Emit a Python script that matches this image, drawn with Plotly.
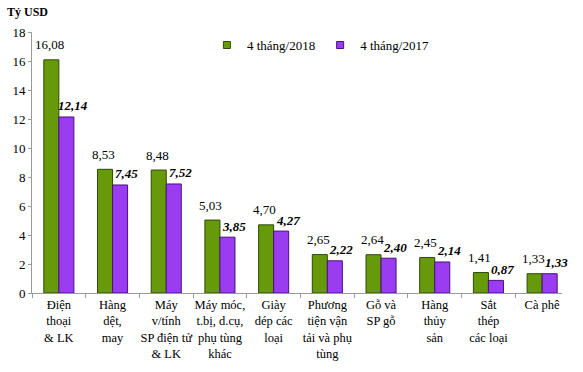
import plotly.graph_objects as go

categories = ["Điện<br>thoại<br>& LK", "Hàng<br>dệt,<br>may", "Máy<br>v/tính<br>SP điện tử<br>& LK",
              "Máy móc,<br>t.bị, d.cụ,<br>phụ tùng<br>khác", "Giày<br>dép các<br>loại",
              "Phương<br>tiện vận<br>tải và phụ<br>tùng", "Gỗ và<br>SP gỗ", "Hàng<br>thủy<br>sản",
              "Sắt<br>thép<br>các loại", "Cà phê"]
vals_2018 = [16.08, 8.53, 8.48, 5.03, 4.70, 2.65, 2.64, 2.45, 1.41, 1.33]
vals_2017 = [12.14, 7.45, 7.52, 3.85, 4.27, 2.22, 2.40, 2.14, 0.87, 1.33]
series_names = ["4 tháng/2018", "4 tháng/2017"]
y_ticks = [0, 2, 4, 6, 8, 10, 12, 14, 16, 18]

SERIF = "Liberation Serif, Times New Roman, serif"
GREEN = "#669a0a"
PURPLE = "#9a3cf0"
GREEN_EDGE = "#2f4a00"
PURPLE_EDGE = "#4a1080"

def fmt(v):
    return f"{v:.2f}".replace(".", ",")

fig = go.Figure()
fig.add_trace(go.Bar(
    x=categories, y=vals_2018, name=series_names[0], showlegend=False,
    marker=dict(color=GREEN, line=dict(color=GREEN_EDGE, width=1)),
))
fig.add_trace(go.Bar(
    x=categories, y=vals_2017, name=series_names[1], showlegend=False,
    marker=dict(color=PURPLE, line=dict(color=PURPLE_EDGE, width=1)),
))
# legend entries with small square markers
for name, col, edge in [(series_names[0], GREEN, GREEN_EDGE), (series_names[1], PURPLE, PURPLE_EDGE)]:
    fig.add_trace(go.Scatter(x=[None], y=[None], mode="markers", name=name,
                             marker=dict(symbol="square", size=7, color=col,
                                         line=dict(color=edge, width=1))))

# value labels (green: plain, above bar; purple: bold italic, above and right)
annotations = []
for c, v in zip(categories, vals_2018):
    annotations.append(dict(x=c, y=v, xref="x", yref="y", text=fmt(v), showarrow=False,
                            xshift=-9, yshift=15, yanchor="middle", xanchor="center",
                            font=dict(family=SERIF, size=13, color="black")))
for c, v in zip(categories, vals_2017):
    annotations.append(dict(x=c, y=v, xref="x", yref="y", text="<b><i>" + fmt(v) + "</i></b>",
                            showarrow=False, xshift=14, yshift=11, yanchor="middle", xanchor="center",
                            font=dict(family=SERIF, size=13, color="black")))
annotations.append(dict(text="<b>Tỷ USD</b>", x=0, y=1, xref="paper", yref="paper",
                        xshift=-27, yshift=20, showarrow=False, xanchor="left", yanchor="middle",
                        font=dict(family=SERIF, size=12)))

fig.update_layout(
    width=583, height=372,
    margin=dict(l=32, r=21, t=32, b=79),
    paper_bgcolor="white", plot_bgcolor="white",
    barmode="group", bargap=0.44, bargroupgap=0,
    font=dict(family=SERIF, size=13, color="black"),
    showlegend=True,
    legend=dict(orientation="h", x=0.33, y=0.95, xanchor="left", yanchor="middle",
                font=dict(family=SERIF, size=13), tracegroupgap=0,
                bgcolor="rgba(0,0,0,0)"),
    annotations=annotations,
)
fig.update_xaxes(range=[-0.5, 9.37], showline=True, linecolor="#999999", linewidth=1,
                 ticks="outside", tickson="boundaries", ticklen=4, tickcolor="#999999",
                 automargin=False, tickfont=dict(family=SERIF, size=12.5), tickangle=0)
fig.update_yaxes(range=[0, 18], tickvals=y_ticks, showline=True, linecolor="#999999",
                 ticks="outside", ticklen=3, tickcolor="#999999", showgrid=False, zeroline=False,
                 automargin=False, tickfont=dict(family=SERIF, size=13))

fig.write_html("out.html", config={"displayModeBar": False, "staticPlot": True},
               post_script="document.body.style.margin='0px';")
